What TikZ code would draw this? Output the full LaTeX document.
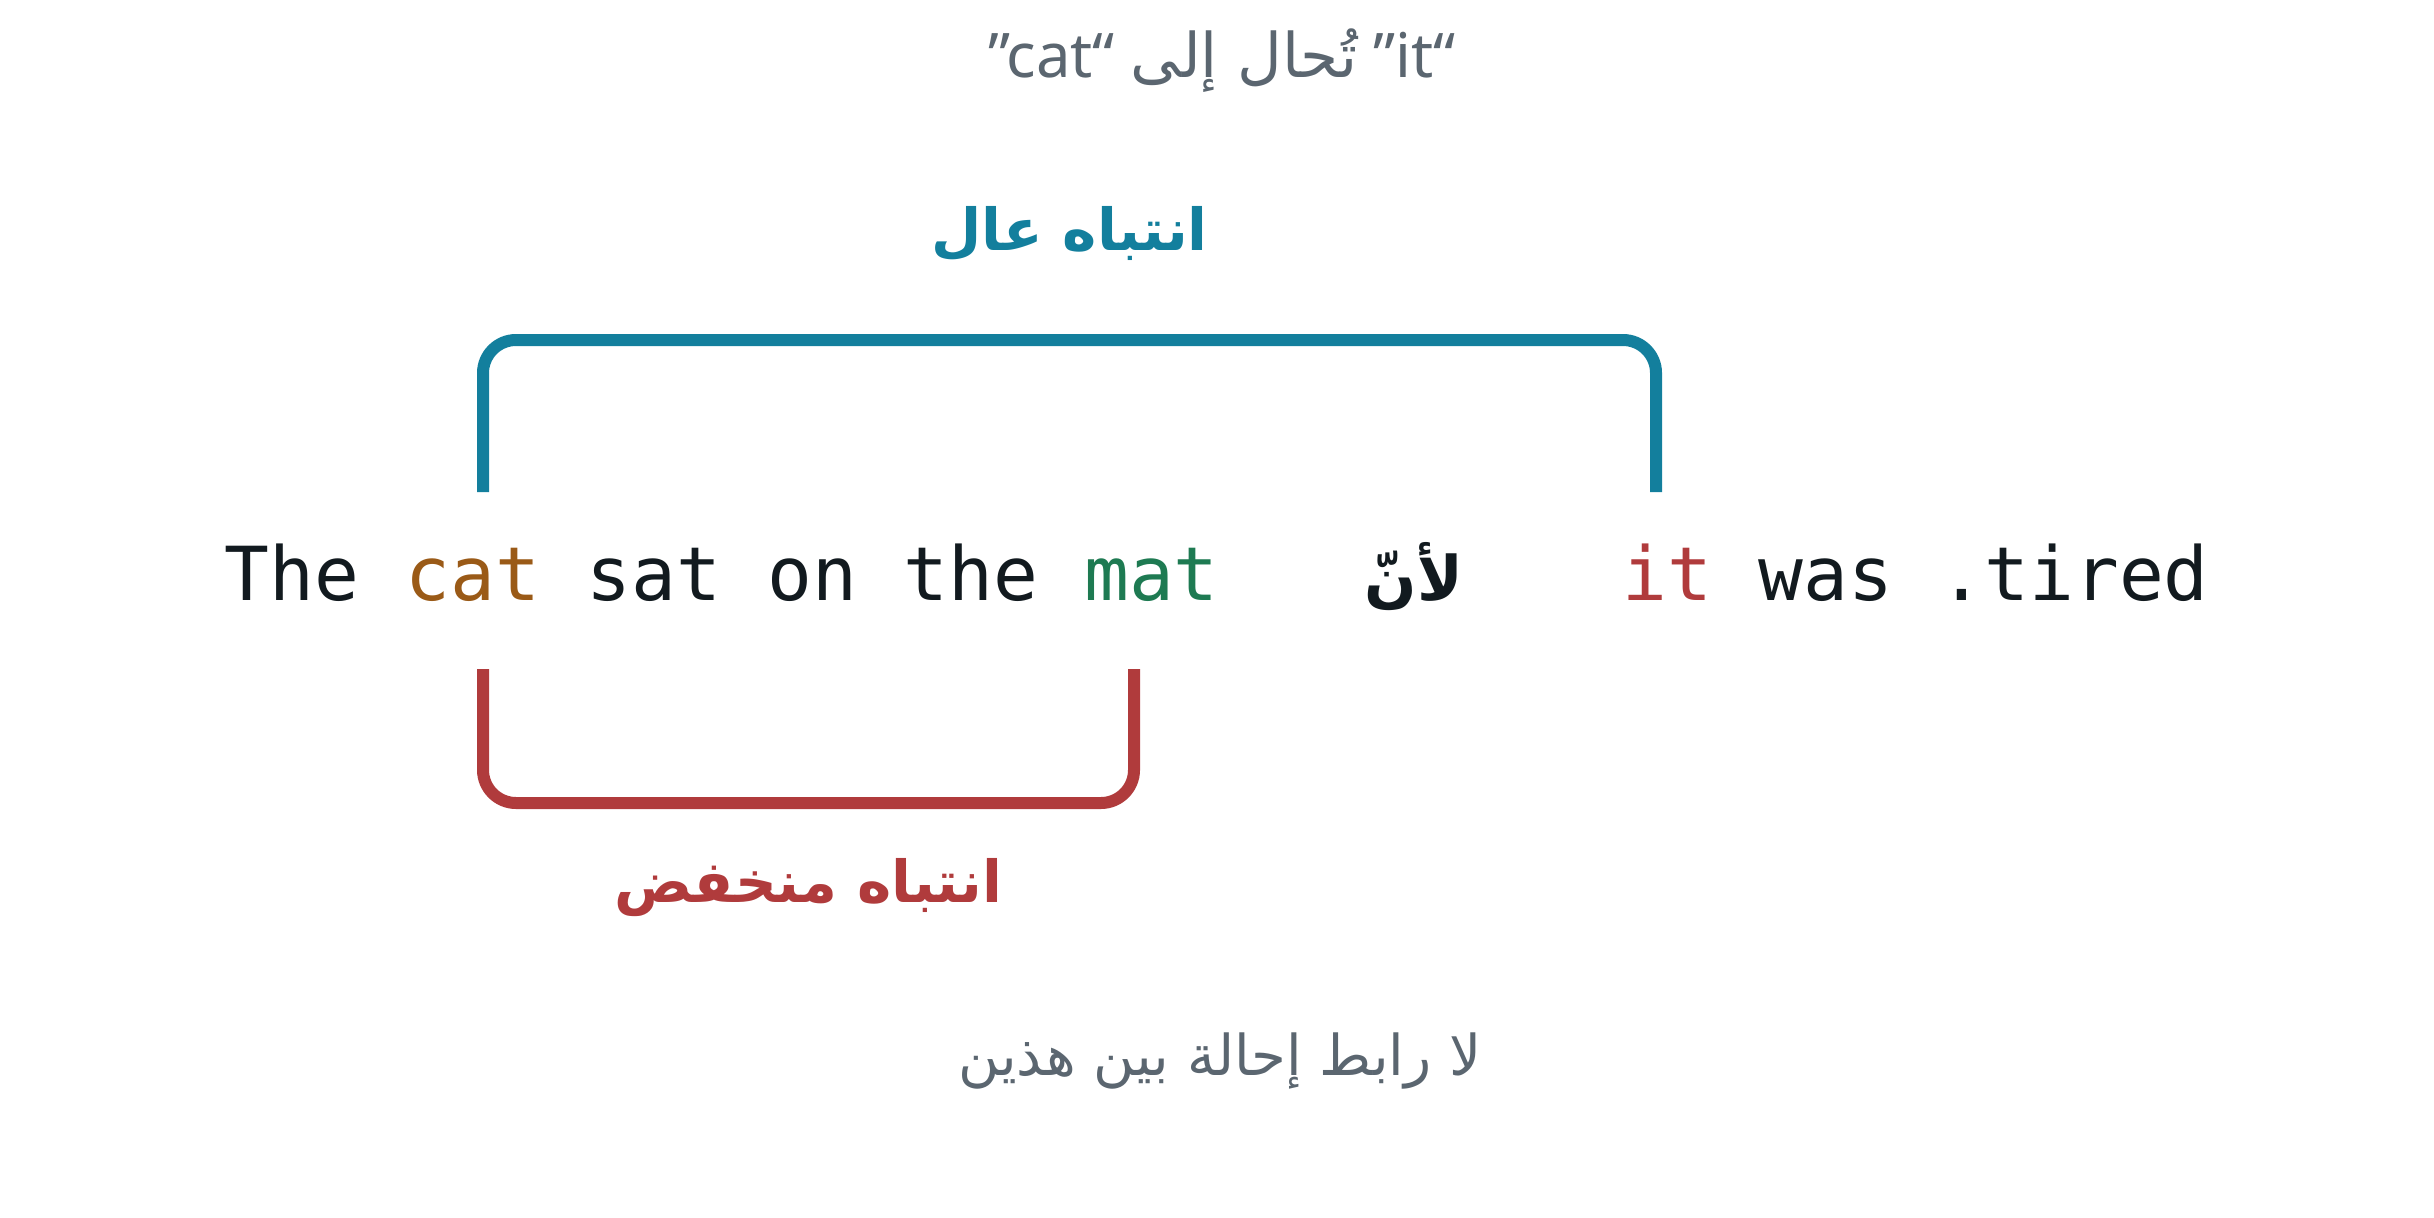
\documentclass[tikz,border=0pt]{standalone}
\usepackage{fontspec}
\setmonofont{DejaVu Sans Mono}
\setsansfont{Noto Sans}
\newfontfamily\arabicfont[Script=Arabic]{DejaVu Sans}
\TeXXeTstate=1
\usetikzlibrary{positioning}

\definecolor{inkc}{HTML}{121A1F}
\definecolor{catc}{HTML}{9A5A17}
\definecolor{matc}{HTML}{1E7A52}
\definecolor{itc}{HTML}{B03B3C}
\definecolor{highc}{HTML}{137F9D}
\definecolor{lowc}{HTML}{B03B3C}
\definecolor{notec}{HTML}{5B6670}

\tikzset{
  word/.style={inner sep=0pt, text=inkc, font=\ttfamily\fontsize{21.2}{26}\selectfont},
  link/.style={line width=0.12cm, rounded corners=0.33cm},
  tag/.style={inner sep=0pt, font=\arabicfont\bfseries\fontsize{16.5}{22}\selectfont},
  note/.style={inner sep=0pt, text=notec, font=\sffamily\fontsize{17.5}{22}\selectfont}
}

\begin{document}
\begin{tikzpicture}[node distance=0.449cm]
\useasboundingbox (0,0) rectangle (24.34,12.17);

% Sentence
\node[word, anchor=base west] (the1) at (2.24,6.17) {The};
\node[word, text=catc, base right=of the1] (cat) {cat};
\node[word, base right=of cat] (sat) {sat};
\node[word, base right=of sat] (on) {on};
\node[word, base right=of on] (the2) {the};
\node[word, text=matc, base right=of the2] (mat) {mat};
\node[word, anchor=base, font=\arabicfont\bfseries\fontsize{17.5}{22}\selectfont] (because) at (14.14,6.17) {\beginR لأنّ\endR};
\node[word, text=itc, anchor=base west] (it) at (16.22,6.17) {it};
\node[word, base right=of it] (was) {was};
\node[word, base right=of was] (tired) {.tired};

% Bracket ends
\coordinate (hiA) at (4.83,7.25);
\coordinate (hiB) at (16.56,7.25);
\coordinate (loA) at (4.83,5.48);
\coordinate (loB) at (11.34,5.48);

% High attention
\draw[link, highc] (hiA) -- ++(0,1.52) -- node[tag, midway, anchor=base, yshift=0.9cm, text=highc] (high) {\beginR انتباه عال\endR} (hiB |- 0,8.77) -- (hiB);

% Low attention
\draw[link, lowc] (loA) -- ++(0,-1.34) -- node[tag, midway, anchor=base, yshift=-0.99cm, text=lowc] (low) {\beginR انتباه منخفض\endR} (loB |- 0,4.14) -- (loB);

% Notes
\node[note, anchor=base] (title) at (12.22,11.39) {”cat“ {\arabicfont\beginR تُحال إلى\endR} ”it“};
\node[note, anchor=base, font=\arabicfont\fontsize{16}{22}\selectfont] (none) at (12.2,1.42) {\beginR لا رابط إحالة بين هذين\endR};

\end{tikzpicture}
\end{document}
